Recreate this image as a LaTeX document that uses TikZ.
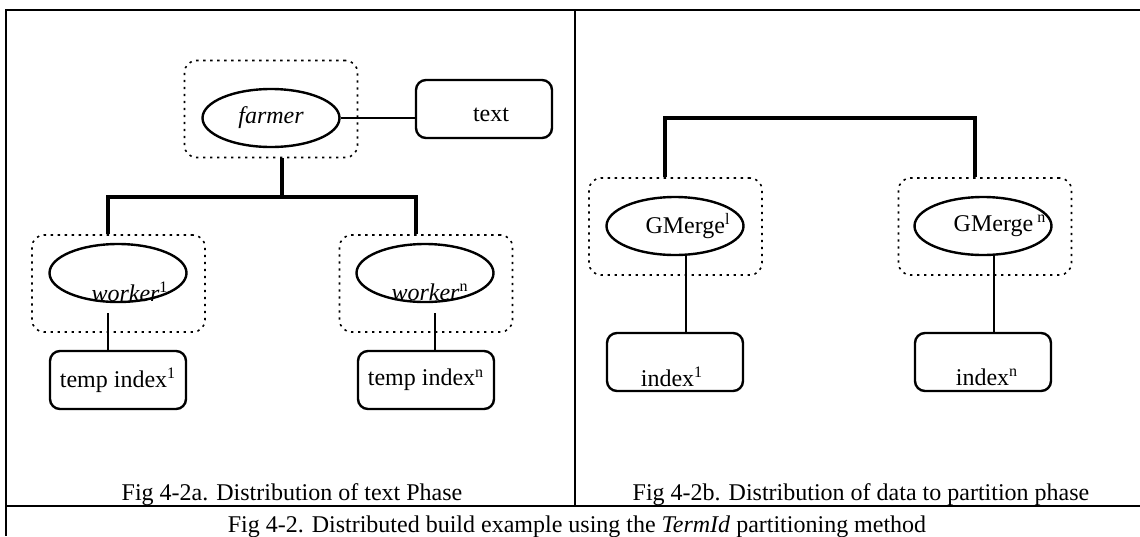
\documentclass[tikz,border=0pt]{standalone}
\usepackage{fontspec}
\setmainfont{Liberation Serif}
\usetikzlibrary{shapes.geometric}

\begin{document}
\begin{tikzpicture}[x=0.5pt, y=-0.5pt, font=\fontsize{12}{14}\selectfont,
  frame line/.style={line width=1pt},
  divider line/.style={line width=0.6pt},
  process group/.style={draw, rounded corners=6pt, line width=0.8pt, dash pattern=on 1.2pt off 2.3pt, minimum width=86.5pt, minimum height=48.5pt, inner sep=0pt},
  process/.style={draw, ellipse, line width=1.2pt, minimum width=68.5pt, minimum height=29pt, inner sep=0pt},
  data store/.style={draw, rounded corners=5pt, line width=1.2pt, minimum width=68pt, minimum height=29pt, inner sep=0pt},
  tree link/.style={line width=1.8pt},
  plain link/.style={line width=0.7pt}]
\useasboundingbox (0,0) rectangle (1140,536);

% frame of the two panels and the caption row
\draw[frame line] (1140,10) -- (6,10) -- (6,536);
\draw[divider line] (575,10) -- (575,506);
\draw[divider line] (6,506) -- (1140,506);

% left panel: distribution of text
\node[process group] (farmergrp) at (271,109) {};
\node[process group] (workergrp1) at (118.5,283.5) {};
\node[process group] (workergrpn) at (426,283.5) {};
\node[process] (farmer) at (271,118) {\itshape farmer};
\node[data store, label={[xshift=3.5pt,yshift=-3pt]center:text}] (textsrc) at (484,109) {};
\node[process, label={[xshift=6pt,yshift=-9.5pt]center:{\itshape worker}\textsuperscript{1}}] (worker1) at (118,273) {};
\node[process, label={[xshift=2.5pt,yshift=-9.5pt]center:{\itshape worker}\textsuperscript{n}}] (workern) at (425,273) {};
\node[data store] (tempidx1) at (118,380) {temp index\textsuperscript{1}};
\node[data store] (tempidxn) at (426,380) {temp index\textsuperscript{n}};

\draw[plain link] (farmer.east) -- (farmer.east -| textsrc.west);
\coordinate (split) at (282,197);
\draw[tree link] ([xshift=5.5pt]farmergrp.south) -- (split);
\draw[tree link] ([xshift=-5.25pt]workergrp1.north) |- (split) -| ([xshift=-5pt]workergrpn.north);
\draw[plain link] ([xshift=-5pt,yshift=-5pt]worker1.south) -- ([xshift=-5pt]tempidx1.north);
\draw[plain link] ([xshift=5pt,yshift=-5pt]workern.south) -- ([xshift=4.5pt]tempidxn.north);

% right panel: distribution of data to partitions
\node[process group] (mergegrp1) at (675.5,226.5) {};
\node[process group] (mergegrpn) at (985,226.5) {};
\node[process, label={[xshift=6.5pt]center:GMerge\textsuperscript{l}}] (gmerge1) at (675,226) {};
\node[process, label={[xshift=8.5pt]center:GMerge\,\textsuperscript{n}}] (gmergen) at (983,226) {};
\node[data store, label={[xshift=-1.5pt,yshift=-7.5pt]center:index\textsuperscript{1}}] (index1) at (675,362) {};
\node[data store, label={[xshift=2pt,yshift=-7.5pt]center:index\textsuperscript{n}}] (indexn) at (983,362) {};

\coordinate (mergetop) at (820,118);
\draw[tree link] ([xshift=-5.25pt]mergegrp1.north) |- (mergetop) -| ([xshift=-5pt]mergegrpn.north);
\draw[plain link] ([xshift=5.5pt]gmerge1.south) -- ([xshift=5.5pt]index1.north);
\draw[plain link] ([xshift=5.5pt]gmergen.south) -- ([xshift=5.5pt]indexn.north);

% captions
\node[anchor=base] (captiona) at (292,500) {Fig 4-2a. Distribution of text Phase};
\node[anchor=base] (captionb) at (861,500) {Fig 4-2b. Distribution of data to partition phase};
\node[anchor=base] (caption) at (577,532) {Fig 4-2. Distributed build example using the \textit{TermId} partitioning method};
\end{tikzpicture}
\end{document}
